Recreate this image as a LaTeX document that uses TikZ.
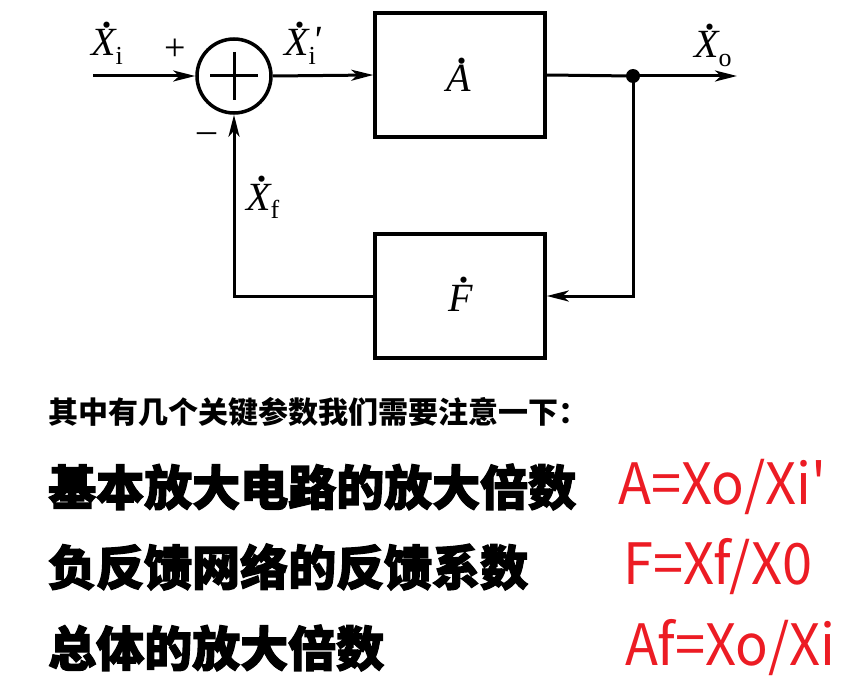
\documentclass[tikz,border=0pt]{standalone}
\usepackage{fontspec}
\usepackage{graphicx}
\newfontfamily\tms{Liberation Serif}
\newfontfamily\cjk{Noto Sans CJK SC}
\newfontfamily\cjkheavy{Noto Sans CJK SC}[BoldFeatures={FakeBold=2.5}]
\usetikzlibrary{arrows.meta}
\definecolor{fred}{RGB}{236,28,36}
\newcommand\dlet[1]{{\setbox0=\hbox{\tms\itshape #1}\rlap{\hbox to\wd0{\hss\kern0.2em\raisebox{0.72em}{\scalebox{1.3}{\tms .}}\hss}}\box0}}
\newcommand\sbs[1]{\raisebox{-0.22em}{\fontsize{26}{28}\selectfont\tms #1}}
\tikzset{
  blk/.style={draw, line width=3.5pt, minimum width=170pt, minimum height=124pt, inner sep=0pt},
  conn/.style={line width=3pt},
  arr/.style={conn, -{Stealth[length=22pt,width=11pt,inset=6pt]}},
  lbl/.style={font=\tms\fontsize{40}{44}\selectfont, inner sep=0pt, anchor=base west},
  sgn/.style={font=\tms\fontsize{38}{40}\selectfont, inner sep=0pt},
  cn/.style={font=\cjk\bfseries\fontsize{30}{34}\selectfont, anchor=west, inner sep=0pt},
  cnbig/.style={font=\cjkheavy\bfseries\fontsize{48}{52}\selectfont, anchor=west, inner sep=0pt},
  eq/.style={font=\cjk\fontsize{57}{60}\selectfont, text=fred, anchor=west, inner sep=0pt}
}
\newcommand\cond[1]{\scalebox{0.95}[1]{#1}}
\begin{document}
\begin{tikzpicture}[x=1pt,y=-1pt]
\useasboundingbox (0,0) rectangle (849,693);
% summing junction
\node (sum) [circle, draw, line width=3.5pt, minimum size=74pt, inner sep=0pt] at (234,76) {};
\draw[line width=3pt] (210,76) -- (258,76) (234,52) -- (234,100);
% blocks
\node (A) [blk] at (460,75) {};
\node (F) [blk] at (460,296) {};
\node[lbl] at (446,92) {\dlet{A}};
\node[lbl] at (448,311) {\dlet{F}};
% input
\coordinate (in) at (93,76);
\draw[arr] (in) -- (sum.west);
\draw[arr] (sum.east) -- (A.west);
% output
\coordinate (dot) at (633,76);
\coordinate (out) at (737,76);
\draw[conn] (A.east) -- (dot);
\draw[arr] (dot) -- (out);
\fill (dot) circle (7pt);
% feedback
\coordinate (fbr) at (633,296);
\coordinate (fbl) at (234,296);
\draw[arr] (dot) -- (fbr) -- (F.east);
\draw[arr] (F.west) -- (fbl) -- (sum.south);
% labels
\node[lbl] at (91,56) {\dlet{X}\sbs{i}};
\node[lbl] at (284,56) {\dlet{X}\sbs{i}\kern-0.08em\raisebox{0.05em}{\itshape '}};
\node[lbl] at (694,58) {\dlet{X}\sbs{o}};
\node[lbl] at (246,210) {\dlet{X}\sbs{f}};
\node[sgn] at (175,50) {+};
\node[sgn] at (207,138) {–};
% text
\node[cn] at (48,412) {其中有几个关键参数我们需要注意一下：};
\node[cnbig] at (48,487) {基本放大电路的放大倍数};
\node[cnbig] at (48,567) {负反馈网络的反馈系数};
\node[cnbig] at (48,648) {总体的放大倍数};
\node[eq] at (618,487) {\cond{A=Xo/Xi'}};
\node[eq] at (623,567) {\cond{F=Xf/X0}};
\node[eq] at (625,648) {\cond{Af=Xo/Xi}};
\end{tikzpicture}
\end{document}
